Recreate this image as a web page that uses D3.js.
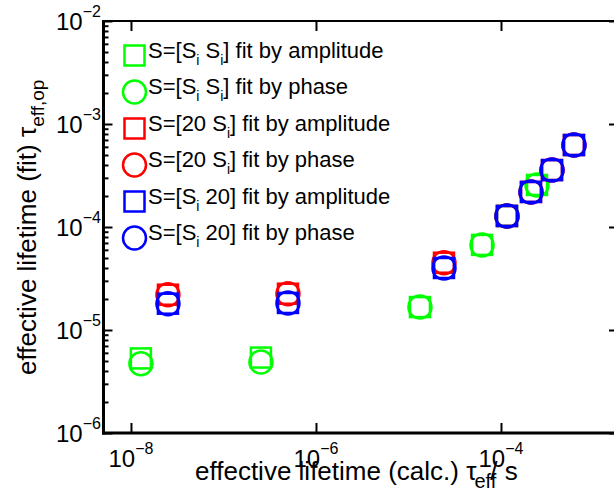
<!DOCTYPE html>
<html>
<head>
<meta charset="utf-8">
<script src="https://cdn.jsdelivr.net/npm/d3@7"></script>
<style>
  html, body { margin: 0; padding: 0; background: #fff; }
  svg { display: block; }
  text { font-family: "Liberation Sans", Arial, Helvetica, sans-serif; fill: #000; }
</style>
</head>
<body>
<div id="chart"></div>
<script>
// Calculated effective lifetimes (x) and fitted lifetimes (y), in seconds
const tauCalcSiSi   = [1.28e-8, 2.54e-7, 1.33e-5, 6.24e-5, 1.16e-4, 2.45e-4];
const fitAmpSiSi    = [5.3e-6, 5.4e-6, 1.67e-5, 6.7e-5, 1.28e-4, 2.56e-4];
const fitPhaseSiSi  = [4.7e-6, 4.9e-6, 1.67e-5, 6.7e-5, 1.28e-4, 2.56e-4];

const tauCalc20     = [2.51e-8, 4.98e-7, 2.42e-5, 1.16e-4, 2.11e-4, 3.56e-4, 6.15e-4];
const fitAmp20Si    = [2.2e-5, 2.25e-5, 4.5e-5, 1.28e-4, 2.19e-4, 3.57e-4, 6.25e-4];
const fitPhase20Si  = [2.2e-5, 2.25e-5, 4.5e-5, 1.28e-4, 2.19e-4, 3.57e-4, 6.25e-4];
const fitAmpSi20    = [1.8e-5, 1.83e-5, 4.0e-5, 1.28e-4, 2.19e-4, 3.57e-4, 6.25e-4];
const fitPhaseSi20  = [1.8e-5, 1.83e-5, 4.0e-5, 1.28e-4, 2.19e-4, 3.57e-4, 6.25e-4];

const legendLabels = [
  "S=[S_{i} S_{i}] fit by amplitude",
  "S=[S_{i} S_{i}] fit by phase",
  "S=[20 S_{i}] fit by amplitude",
  "S=[20 S_{i}] fit by phase",
  "S=[S_{i} 20] fit by amplitude",
  "S=[S_{i} 20] fit by phase"
];
const seriesColors  = ["#00ff00", "#00ff00", "#ff0000", "#ff0000", "#0000ff", "#0000ff"];
const seriesShapes  = ["square", "circle", "square", "circle", "square", "circle"];
const seriesX       = [tauCalcSiSi, tauCalcSiSi, tauCalc20, tauCalc20, tauCalc20, tauCalc20];
const seriesY       = [fitAmpSiSi, fitPhaseSiSi, fitAmp20Si, fitPhase20Si, fitAmpSi20, fitPhaseSi20];

const xMajorExp = [-8, -6, -4];
const yMajorExp = [-6, -5, -4, -3, -2];

const W = 614, H = 499;
const plot = { left: 103.5, right: 618, top: 21, bottom: 433 };

const svg = d3.select("#chart").append("svg")
  .attr("width", W).attr("height", H)
  .style("background", "#fff");

const x = d3.scaleLog()
  .domain([Math.pow(10, -8.297), Math.pow(10, -2.735)])
  .range([plot.left, plot.right]);
const y = d3.scaleLog()
  .domain([1e-6, 1e-2])
  .range([plot.bottom, plot.top]);

const xMajor = xMajorExp.map(e => Math.pow(10, e));
const yMajor = yMajorExp.map(e => Math.pow(10, e));
const yMinor = [];
for (let e = -6; e < -2; e++) for (let m = 2; m <= 9; m++) yMinor.push(m * Math.pow(10, e));

// Axis ticks (inward, no labels; labels drawn as 10^n below)
function styleAxis(g, w) {
  g.selectAll(".domain").remove();
  g.selectAll("line").attr("stroke", "#000").attr("stroke-width", w);
}
svg.append("g").attr("transform", `translate(${plot.left},0)`)
  .call(d3.axisLeft(y).tickValues(yMajor).tickSize(-9).tickFormat(""))
  .call(g => styleAxis(g, 2));
svg.append("g").attr("transform", `translate(${plot.left},0)`)
  .call(d3.axisLeft(y).tickValues(yMinor).tickSize(-5).tickFormat(""))
  .call(g => styleAxis(g, 2));
svg.append("g").attr("transform", `translate(${plot.right},0)`)
  .call(d3.axisRight(y).tickValues(yMajor).tickSize(-9).tickFormat(""))
  .call(g => styleAxis(g, 2));
svg.append("g").attr("transform", `translate(0,${plot.bottom})`)
  .call(d3.axisBottom(x).tickValues(xMajor).tickSize(-10).tickFormat(""))
  .call(g => styleAxis(g, 2));
svg.append("g").attr("transform", `translate(0,${plot.top})`)
  .call(d3.axisTop(x).tickValues(xMajor).tickSize(-10).tickFormat(""))
  .call(g => styleAxis(g, 2));

// Frame
svg.append("line").attr("x1", plot.left).attr("x2", plot.right + 2)
  .attr("y1", plot.top).attr("y2", plot.top)
  .attr("stroke", "#000").attr("stroke-width", 2.2);
svg.append("line").attr("x1", plot.right).attr("x2", plot.right)
  .attr("y1", plot.top).attr("y2", plot.bottom)
  .attr("stroke", "#000").attr("stroke-width", 2.2);
svg.append("line").attr("x1", plot.left).attr("x2", plot.left)
  .attr("y1", plot.top - 1).attr("y2", plot.bottom + 1.5)
  .attr("stroke", "#000").attr("stroke-width", 3);
svg.append("line").attr("x1", plot.left - 1.5).attr("x2", plot.right + 2)
  .attr("y1", plot.bottom).attr("y2", plot.bottom)
  .attr("stroke", "#000").attr("stroke-width", 3);

// Power-of-ten tick labels
function powLabel(sel, exp) {
  sel.append("tspan").text("10");
  sel.append("tspan").attr("font-size", 16).attr("dy", -13).text("\u2212" + Math.abs(exp));
}
yMajorExp.forEach(e => {
  const t = svg.append("text")
    .attr("x", 56).attr("y", y(Math.pow(10, e)) + 8.5)
    .attr("font-size", 24);
  powLabel(t, e);
});
xMajorExp.forEach(e => {
  const t = svg.append("text")
    .attr("x", x(Math.pow(10, e))).attr("y", 467)
    .attr("text-anchor", "middle")
    .attr("font-size", 24);
  powLabel(t, e);
});

// Text with _{...} subscripts
function richText(sel, str, subSize, subDy) {
  const parts = str.split(/(_\{[^}]*\})/).filter(s => s.length);
  let shift = 0;
  parts.forEach(p => {
    if (p.startsWith("_{")) {
      sel.append("tspan").attr("font-size", subSize).attr("dy", subDy - shift).text(p.slice(2, -1));
      shift = subDy;
    } else {
      sel.append("tspan").attr("dy", -shift).text(p);
      shift = 0;
    }
  });
}

// Axis titles
const xt = svg.append("text").attr("x", 195).attr("y", 480).attr("font-size", 26);
xt.append("tspan").text("effective lifetime (calc.) \u03c4");
xt.append("tspan").attr("font-size", 20).attr("dx", -2).attr("dy", 8).text("eff");
xt.append("tspan").attr("dx", -6).attr("dy", -8).text("/ s");

const yt = svg.append("text")
  .attr("transform", "translate(36,375) rotate(-90)")
  .attr("font-size", 26);
yt.append("tspan").text("effective lifetime (fit) \u03c4");
yt.append("tspan").attr("font-size", 19).attr("dy", 8).text("eff,op");

// Markers
function drawMarker(g, shape, color, cx, cy) {
  if (shape === "square") {
    g.append("rect").attr("x", cx - 10).attr("y", cy - 10)
      .attr("width", 20).attr("height", 20)
      .attr("fill", "none").attr("stroke", color).attr("stroke-width", 2.5);
  } else {
    g.append("circle").attr("cx", cx).attr("cy", cy).attr("r", 11.5)
      .attr("fill", "none").attr("stroke", color).attr("stroke-width", 2.5);
  }
}

const marks = svg.append("g");
seriesX.forEach((xs, i) => {
  const g = marks.append("g");
  xs.forEach((xv, j) => drawMarker(g, seriesShapes[i], seriesColors[i], x(xv), y(seriesY[i][j])));
});

// Legend (no box)
const legend = svg.append("g");
legendLabels.forEach((lab, i) => {
  const cy = 55.5 + i * 36.5;
  drawMarker(legend, seriesShapes[i], seriesColors[i], 134.5, cy);
  const t = legend.append("text").attr("x", 148).attr("y", cy + 2).attr("font-size", 22);
  richText(t, lab, 14, 7);
});
</script>
</body>
</html>
